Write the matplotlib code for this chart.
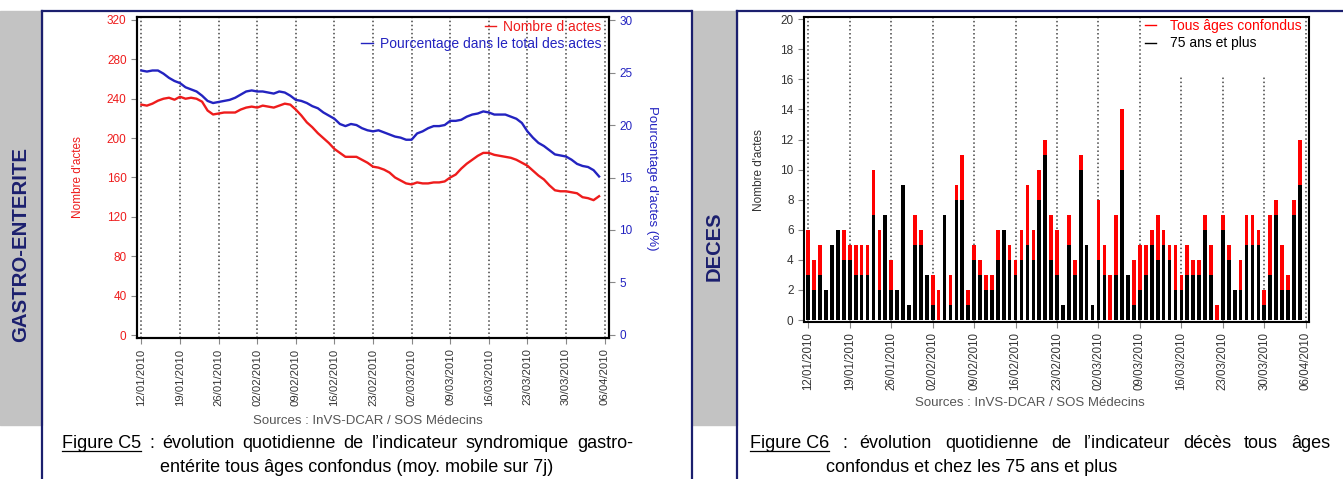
import numpy as np
import pandas as pd
import matplotlib.pyplot as plt
from matplotlib.lines import Line2D
from matplotlib.patches import Rectangle

# period shown : 12/01/2010 -> 06/04/2010, weekly ticks
start = '2010-01-12'
n_days = 85

# Figure C5 : gastro-enterite, moyenne mobile sur 7j
nb_actes = [234, 233, 235, 238, 240, 241, 239, 242, 240, 241, 240, 237, 228, 224,
            225, 226, 226, 226, 229, 231, 232, 231, 233, 232, 231, 233, 235, 234,
            229, 223, 216, 211, 205, 200, 195, 189, 185, 181, 181, 181, 178, 175,
            171, 170, 168, 165, 160, 157, 154, 153, 155, 154, 154, 155, 155, 156,
            160, 163, 169, 174, 178, 182, 185, 185, 183, 182, 181, 180, 178, 175,
            172, 167, 162, 158, 152, 147, 146, 146, 145, 144, 140, 139, 137, 141]
pct_actes = [25.2, 25.1, 25.2, 25.2, 24.9, 24.5, 24.2, 24.0, 23.6, 23.4, 23.2, 22.8,
             22.3, 22.1, 22.2, 22.3, 22.4, 22.6, 22.9, 23.2, 23.3, 23.2, 23.2, 23.1,
             23.0, 23.2, 23.1, 22.8, 22.4, 22.3, 22.1, 21.8, 21.6, 21.2, 20.9, 20.6,
             20.1, 19.9, 20.1, 20.0, 19.7, 19.5, 19.4, 19.5, 19.3, 19.1, 18.9, 18.8,
             18.6, 18.6, 19.2, 19.4, 19.7, 19.9, 19.9, 20.0, 20.4, 20.4, 20.5, 20.8,
             21.0, 21.1, 21.3, 21.2, 21.0, 21.0, 21.0, 20.8, 20.6, 20.2, 19.4, 18.8,
             18.3, 18.0, 17.6, 17.2, 17.1, 17.0, 16.7, 16.3, 16.1, 16.0, 15.7, 15.1]

# Figure C6 : deces
deces_tous = [6, 4, 5, 2, 5, 6, 6, 5, 5, 5, 5, 10, 6, 7, 4, 2, 9, 1, 7, 6, 3,
              3, 2, 7, 3, 9, 11, 2, 5, 4, 3, 3, 6, 6, 5, 4, 6, 9, 6, 10, 12,
              7, 6, 1, 7, 4, 11, 5, 1, 8, 5, 3, 7, 14, 3, 4, 5, 5, 6, 7, 6,
              5, 5, 3, 5, 4, 4, 7, 5, 1, 7, 5, 2, 4, 7, 7, 6, 2, 7, 8, 5, 3, 8, 12]
deces_75 = [3, 2, 3, 2, 5, 6, 4, 4, 3, 3, 3, 7, 2, 7, 2, 2, 9, 1, 5, 5, 3,
            1, 0, 7, 1, 8, 8, 1, 4, 3, 2, 2, 4, 6, 4, 3, 4, 5, 4, 8, 11,
            4, 3, 1, 5, 3, 10, 5, 1, 4, 3, 0, 3, 10, 3, 1, 2, 3, 5, 4, 5,
            4, 2, 2, 3, 3, 3, 6, 3, 0, 6, 4, 2, 2, 5, 5, 5, 1, 3, 7, 2, 2, 7, 9]

days = pd.date_range(start, periods=n_days, freq='D')
tick_idx = np.arange(0, n_days, 7)
tick_lab = days[tick_idx].strftime('%d/%m/%Y')

plt.rcParams['font.family'] = ['Liberation Sans', 'DejaVu Sans']

W, H = 1343, 479
fig = plt.figure(figsize=(W / 100, H / 100), dpi=100)


def px(x):
    return x / W


def py(y):
    return 1 - y / H


navy = '#1b1f6e'
red = '#ee1c1c'
blue = '#2323c0'

# page decoration : grey side bands + navy frames
for x0, x1 in [(0, 42), (692, 737)]:
    fig.add_artist(Rectangle((px(x0), py(425)), px(x1 - x0), py(11) - py(425),
                             transform=fig.transFigure, color='#c3c3c3', zorder=0))
for xs, ys in [([42, 42], [11, 479]), ([42, 691], [11, 11]), ([692, 692], [11, 479]),
               ([737, 737], [11, 479]), ([737, 1343], [11, 11])]:
    fig.add_artist(Line2D([px(v) for v in xs], [py(v) for v in ys],
                          transform=fig.transFigure, color=navy, lw=1.6))

fig.text(px(21), py(245), 'GASTRO-ENTERITE', rotation=90, ha='center', va='center',
         fontsize=14.7, fontweight='bold', color=navy)
fig.text(px(714), py(246), 'DECES', rotation=90, ha='center', va='center',
         fontsize=14.5, fontweight='bold', color=navy)

# ---- Figure C5 ----
x = np.arange(len(nb_actes))
ax1 = fig.add_axes([px(137), py(338), px(609) - px(137), py(17) - py(338)])
for t in tick_idx:
    ax1.axvline(t, color='#444444', ls=':', lw=1.1, zorder=1)
ax1.plot(x, nb_actes, color=red, lw=1.7, zorder=3)
ax1.set_xlim(-0.8, 84.8)
ax1.set_ylim(-3, 323)
ax1.set_yticks(range(0, 321, 40))
ax1.set_xticks(tick_idx)
ax1.set_xticklabels(tick_lab, rotation=90, fontsize=8.1, color='#333333')
ax1.tick_params(axis='y', colors='#888888', labelcolor=red, labelsize=8.5, length=4)
ax1.tick_params(axis='x', colors='#888888', labelcolor='#333333', length=4)

ax2 = ax1.twinx()
ax2.plot(x, pct_actes, color=blue, lw=1.7, zorder=3)
ax2.set_ylim(-0.3, 30.3)
ax2.set_yticks(range(0, 31, 5))
ax2.tick_params(axis='y', colors='#888888', labelcolor=blue, labelsize=8.5, length=4)
for a in (ax1, ax2):
    for s in a.spines.values():
        s.set_linewidth(1.5)

ax1.legend([Line2D([], [], color=red, lw=1)], ['Nombre d actes'],
           loc='upper right', bbox_to_anchor=(px(601), py(20)),
           bbox_transform=fig.transFigure, frameon=False, fontsize=10,
           handlelength=0.8, handletextpad=0.5, borderpad=0, borderaxespad=0,
           labelcolor=red)
ax2.legend([Line2D([], [], color=blue, lw=1)], ['Pourcentage dans le total des actes'],
           loc='upper right', bbox_to_anchor=(px(601), py(37)),
           bbox_transform=fig.transFigure, frameon=False, fontsize=10,
           handlelength=0.8, handletextpad=0.5, borderpad=0, borderaxespad=0,
           labelcolor=blue)

fig.text(px(78), py(177), "Nombre d'actes", rotation=90, ha='center', va='center',
         fontsize=8.5, color=red)
fig.text(px(652), py(178), "Pourcentage d'actes (%)", rotation=270, ha='center',
         va='center', fontsize=9.5, color=blue)
fig.text(px(368), py(421), 'Sources : InVS-DCAR / SOS Médecins', ha='center',
         va='center', fontsize=9.5, color='#555555')

# ---- Figure C6 ----
xb = np.arange(len(deces_tous))
ax3 = fig.add_axes([px(804), py(321.7), px(1309.3) - px(804), py(17.3) - py(321.7)])
for t in tick_idx:
    top = 16.2 if t in (63, 70, 77) else 20.13
    ax3.vlines(t, -0.11, top, color='#444444', ls=':', lw=1.1, zorder=1)
ax3.bar(xb, deces_tous, width=0.62, color='#ff0000', zorder=2)
ax3.bar(xb, deces_75, width=0.62, color='black', zorder=3)
ax3.set_xlim(-0.73, 84.6)
ax3.set_ylim(-0.11, 20.13)
ax3.set_yticks(range(0, 21, 2))
ax3.set_xticks(tick_idx)
ax3.set_xticklabels(tick_lab, rotation=90, fontsize=8.3)
ax3.tick_params(axis='both', colors='#888888', labelcolor='#333333', labelsize=8.5,
                length=4)
ax3.tick_params(axis='x', labelsize=8.3)
for s in ax3.spines.values():
    s.set_linewidth(1.5)
ax3.legend([Line2D([], [], color='red', lw=1), Line2D([], [], color='black', lw=1)],
           ['Tous âges confondus', '75 ans et plus'], loc='upper right',
           bbox_to_anchor=(px(1302), py(19)), bbox_transform=fig.transFigure,
           frameon=False, fontsize=10, handlelength=0.8, handletextpad=1.0,
           borderpad=0, borderaxespad=0, labelspacing=0.25,
           labelcolor=['red', 'black'])

fig.text(px(759), py(170), "Nombre d'actes", rotation=90, ha='center', va='center',
         fontsize=8.5, color='#333333')
fig.text(px(1030), py(403), 'Sources : InVS-DCAR / SOS Médecins', ha='center',
         va='center', fontsize=9.5, color='#555555')

# ---- captions ----
cap_kw = dict(fontsize=13, color='black')
rend = fig.canvas.get_renderer()


def justify(words, x0, x1, y):
    txts = [fig.text(0, py(y), w, va='baseline', **cap_kw) for w in words]
    widths = [t.get_window_extent(rend).width for t in txts]
    gap = (x1 - x0 - sum(widths)) / (len(words) - 1)
    pos = x0
    ends = []
    for t, w in zip(txts, widths):
        t.set_x(px(pos))
        ends.append(pos + w)
        pos += w + gap
    return ends


def underline(x0, x1, y):
    fig.add_artist(Line2D([px(x0), px(x1)], [py(y), py(y)], transform=fig.transFigure,
                          color='black', lw=0.9))


words = 'évolution quotidienne de l’indicateur syndromique gastro-'.split()
ends = justify(['Figure C5', ':'] + words, 62, 633, 448)
underline(62, ends[0], 451)
fig.text(px(357), py(472), 'entérite tous âges confondus (moy. mobile sur 7j)',
         ha='center', va='baseline', **cap_kw)

words = 'évolution quotidienne de l’indicateur décès tous âges'.split()
ends = justify(['Figure C6', ':'] + words, 750, 1330, 448)
underline(750, ends[0], 451)
fig.text(px(826), py(472), 'confondus et chez les 75 ans et plus', ha='left',
         va='baseline', **cap_kw)

fig.savefig('out.png', dpi=100)
